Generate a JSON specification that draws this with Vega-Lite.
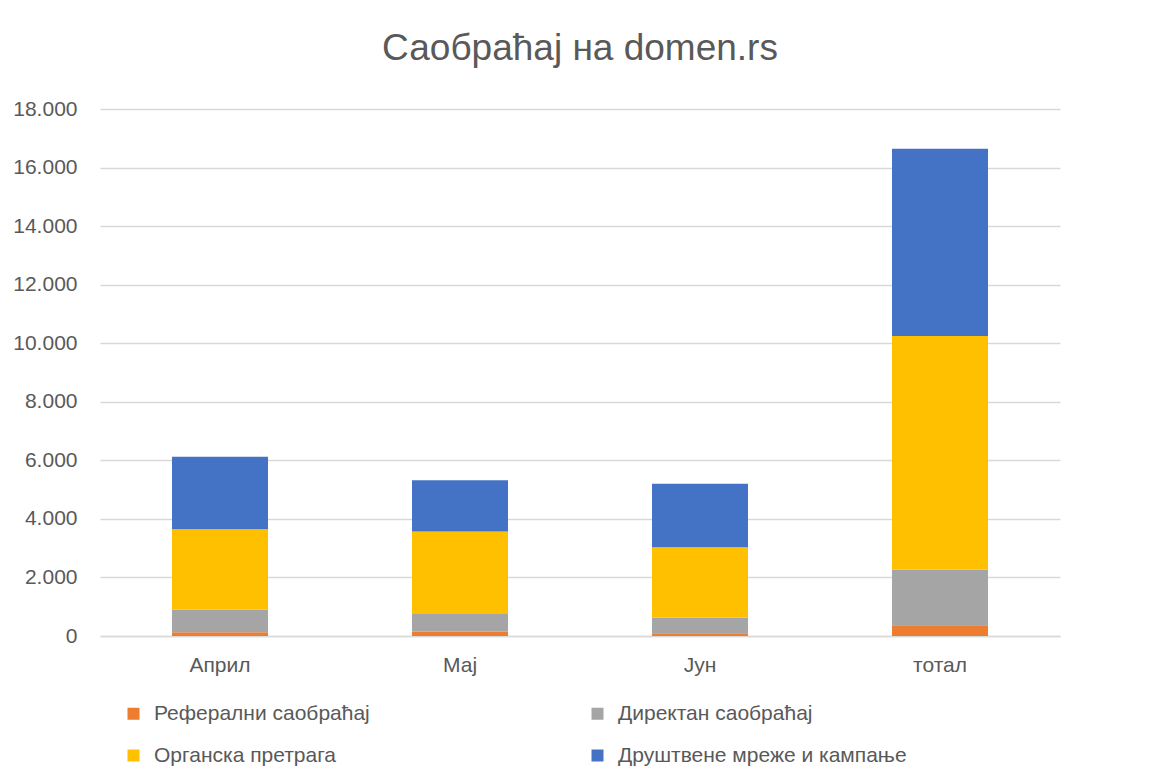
{
  "$schema": "https://vega.github.io/schema/vega-lite/v6.json",
  "width": 960,
  "height": 527,
  "autosize": "none",
  "padding": {"left": 100, "top": 109, "right": 95, "bottom": 136},
  "background": "white",
  "title": {
    "text": "Саобраћај на domen.rs",
    "font": "Liberation Sans",
    "fontSize": 37,
    "fontWeight": "normal",
    "color": "#595959",
    "anchor": "middle",
    "baseline": "alphabetic",
    "offset": 1
  },
  "data": {
    "values": [
      {"month": "Април", "source": "Реферални саобраћај", "visits": 130},
      {"month": "Април", "source": "Директан саобраћај", "visits": 770},
      {"month": "Април", "source": "Органска претрага", "visits": 2750},
      {"month": "Април", "source": "Друштвене мреже и кампање", "visits": 2470},
      {"month": "Мај", "source": "Реферални саобраћај", "visits": 150},
      {"month": "Мај", "source": "Директан саобраћај", "visits": 600},
      {"month": "Мај", "source": "Органска претрага", "visits": 2820},
      {"month": "Мај", "source": "Друштвене мреже и кампање", "visits": 1750},
      {"month": "Јун", "source": "Реферални саобраћај", "visits": 90},
      {"month": "Јун", "source": "Директан саобраћај", "visits": 535},
      {"month": "Јун", "source": "Органска претрага", "visits": 2405},
      {"month": "Јун", "source": "Друштвене мреже и кампање", "visits": 2170},
      {"month": "тотал", "source": "Реферални саобраћај", "visits": 370},
      {"month": "тотал", "source": "Директан саобраћај", "visits": 1905},
      {"month": "тотал", "source": "Органска претрага", "visits": 7975},
      {"month": "тотал", "source": "Друштвене мреже и кампање", "visits": 6390}
    ]
  },
  "transform": [
    {"calculate": "indexof(['Реферални саобраћај', 'Директан саобраћај', 'Органска претрага', 'Друштвене мреже и кампање'], datum.source)", "as": "stackOrder"}
  ],
  "mark": {"type": "bar"},
  "encoding": {
    "x": {
      "field": "month",
      "type": "nominal",
      "sort": ["Април", "Мај", "Јун", "тотал"],
      "scale": {"paddingInner": 0.6, "paddingOuter": 0.3},
      "axis": {
        "title": null,
        "labelAngle": 0,
        "labelFont": "Liberation Sans",
        "labelFontSize": 21,
        "labelColor": "#595959",
        "labelPadding": 18,
        "ticks": false,
        "domain": true,
        "domainColor": "#d9d9d9",
        "domainWidth": 1.5
      }
    },
    "y": {
      "field": "visits",
      "type": "quantitative",
      "aggregate": "sum",
      "stack": "zero",
      "scale": {"domain": [0, 18000], "nice": false},
      "axis": {
        "title": null,
        "values": [0, 2000, 4000, 6000, 8000, 10000, 12000, 14000, 16000, 18000],
        "format": ",d",
        "labelFont": "Liberation Sans",
        "labelFontSize": 21,
        "labelColor": "#595959",
        "labelPadding": 23,
        "ticks": false,
        "domain": false,
        "grid": true,
        "gridColor": "#d9d9d9",
        "gridWidth": 1.5
      }
    },
    "order": {"field": "stackOrder", "type": "quantitative", "sort": "ascending"},
    "color": {
      "field": "source",
      "type": "nominal",
      "sort": ["Реферални саобраћај", "Директан саобраћај", "Органска претрага", "Друштвене мреже и кампање"],
      "scale": {
        "domain": ["Реферални саобраћај", "Директан саобраћај", "Органска претрага", "Друштвене мреже и кампање"],
        "range": ["#ED7D31", "#A5A5A5", "#FFC000", "#4472C4"]
      },
      "legend": {
        "title": null,
        "orient": "none",
        "legendX": 23,
        "legendY": 594,
        "direction": "horizontal",
        "columns": 2,
        "columnPadding": 217,
        "rowPadding": 20,
        "symbolType": "square",
        "symbolSize": 144,
        "symbolStrokeWidth": 0,
        "labelFont": "Liberation Sans",
        "labelFontSize": 21,
        "labelColor": "#595959",
        "labelOffset": 10,
        "labelLimit": 400,
        "padding": 0
      }
    }
  },
  "config": {
    "view": {"stroke": null},
    "locale": {
      "number": {"decimal": ",", "thousands": ".", "grouping": [3], "currency": ["", ""]}
    }
  }
}
